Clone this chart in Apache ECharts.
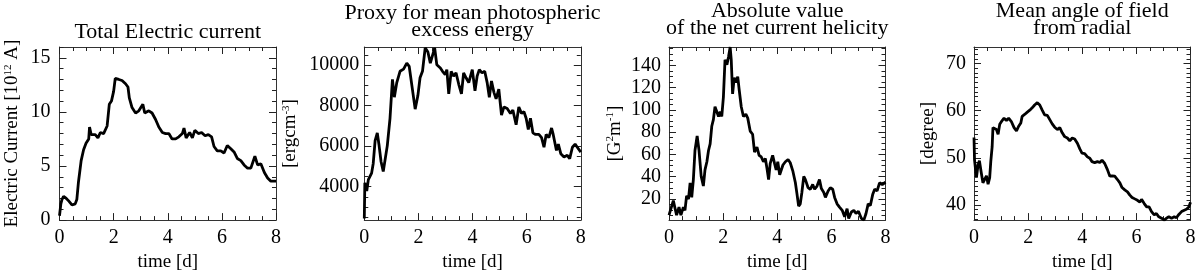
<!DOCTYPE html>
<html>
<head>
<meta charset="utf-8">
<script src="https://cdn.jsdelivr.net/npm/echarts@6/dist/echarts.min.js"></script>
<style>html,body{margin:0;padding:0;background:#fff}#main{width:1200px;height:277px}</style>
</head>
<body>
<div id="main"></div>
<script>
var chart = echarts.init(document.getElementById('main'));
var FONT = 'Liberation Serif';

// total electric current [10^12 A]
var time1 = [0, 0.05, 0.09, 0.15, 0.25, 0.33, 0.46, 0.58, 0.64, 0.7, 0.8, 0.89, 0.98, 1.08, 1.11, 1.17, 1.32, 1.42, 1.51, 1.63, 1.76, 1.84, 1.92, 2.0, 2.06, 2.19, 2.31, 2.44, 2.53, 2.58, 2.68, 2.81, 2.93, 3.08, 3.15, 3.3, 3.42, 3.55, 3.67, 3.8, 3.92, 4.04, 4.16, 4.29, 4.41, 4.54, 4.6, 4.68, 4.81, 4.91, 5.0, 5.13, 5.25, 5.38, 5.5, 5.62, 5.71, 5.83, 5.96, 6.08, 6.2, 6.33, 6.45, 6.57, 6.7, 6.82, 6.95, 7.07, 7.22, 7.32, 7.44, 7.57, 7.69, 7.81, 8.0];
var current = [0.4, 1.5, 1.9, 2.2, 2.0, 1.8, 1.4, 1.5, 1.9, 3.5, 5.5, 6.5, 7.1, 7.5, 8.6, 7.9, 7.9, 7.6, 8.1, 8.0, 8.7, 10.7, 11.0, 11.9, 13.1, 13.0, 12.9, 12.6, 12.3, 11.3, 10.4, 9.9, 10.1, 10.7, 9.9, 10.1, 9.9, 9.3, 8.6, 8.1, 8.0, 8.0, 7.5, 7.5, 7.7, 8.0, 8.5, 7.6, 8.1, 7.6, 8.3, 8.0, 8.1, 7.8, 7.9, 7.7, 6.8, 6.4, 6.4, 6.2, 6.9, 6.6, 6.3, 5.7, 5.5, 5.1, 4.8, 4.8, 5.9, 5.1, 5.2, 4.4, 3.9, 3.6, 3.6];

// excess energy proxy [erg cm^-3]
var time2 = [0, 0.02, 0.09, 0.15, 0.21, 0.27, 0.33, 0.4, 0.48, 0.54, 0.62, 0.7, 0.77, 0.85, 0.95, 1.04, 1.11, 1.2, 1.32, 1.45, 1.57, 1.66, 1.76, 1.88, 1.98, 2.06, 2.15, 2.25, 2.35, 2.44, 2.5, 2.6, 2.68, 2.81, 2.89, 2.99, 3.05, 3.12, 3.21, 3.3, 3.39, 3.49, 3.59, 3.67, 3.76, 3.86, 3.99, 4.09, 4.17, 4.25, 4.35, 4.45, 4.54, 4.62, 4.7, 4.79, 4.87, 4.97, 5.07, 5.16, 5.28, 5.4, 5.49, 5.61, 5.71, 5.81, 5.9, 5.98, 6.06, 6.14, 6.23, 6.33, 6.45, 6.55, 6.64, 6.72, 6.82, 6.92, 6.98, 7.05, 7.1, 7.17, 7.26, 7.38, 7.5, 7.59, 7.69, 7.79, 7.87, 8.0];
var energy = [2430, 4190, 3790, 4350, 4430, 4670, 5150, 6270, 6660, 6100, 5230, 4750, 4830, 6030, 7380, 9300, 8420, 9140, 9700, 9810, 10100, 9940, 8980, 7830, 8500, 9380, 9700, 10860, 10650, 10100, 10020, 10860, 10020, 9860, 9700, 9540, 9780, 8580, 9700, 9460, 9620, 9060, 8580, 9620, 9380, 9140, 9780, 8740, 9460, 9780, 9620, 9700, 9140, 8420, 9220, 8660, 8340, 8820, 7540, 7940, 7860, 7620, 7780, 7060, 7940, 7620, 7700, 7380, 6820, 7380, 6660, 6580, 6580, 6420, 5950, 6580, 6420, 6900, 6580, 6500, 5790, 6100, 5630, 5470, 5550, 5390, 5950, 6100, 5950, 5710];

// |net current helicity| [G^2 m^-1]
var time3 = [0, 0.07, 0.16, 0.22, 0.28, 0.37, 0.44, 0.53, 0.59, 0.65, 0.72, 0.78, 0.84, 0.9, 0.96, 1.04, 1.11, 1.19, 1.27, 1.33, 1.4, 1.46, 1.52, 1.58, 1.64, 1.7, 1.77, 1.83, 1.89, 1.95, 2.01, 2.07, 2.14, 2.2, 2.26, 2.3, 2.35, 2.41, 2.47, 2.54, 2.59, 2.67, 2.75, 2.84, 2.91, 3.0, 3.09, 3.16, 3.25, 3.33, 3.41, 3.49, 3.56, 3.62, 3.68, 3.74, 3.83, 3.9, 3.96, 4.02, 4.09, 4.15, 4.21, 4.3, 4.4, 4.48, 4.58, 4.67, 4.73, 4.79, 4.85, 4.91, 4.98, 5.04, 5.14, 5.22, 5.31, 5.38, 5.47, 5.56, 5.63, 5.72, 5.78, 5.88, 5.96, 6.05, 6.12, 6.21, 6.3, 6.4, 6.49, 6.58, 6.64, 6.74, 6.83, 6.91, 7.0, 7.11, 7.2, 7.28, 7.36, 7.44, 7.53, 7.6, 7.69, 7.78, 7.88, 8.0];
var helicity = [5.4, 6.9, 18.5, 17, 5.4, 12.7, 5.4, 12.7, 9.8, 22.8, 19.9, 34.5, 21.4, 37.4, 63.5, 76.6, 63.5, 40.3, 31.6, 46.1, 53.4, 63.5, 69.4, 85.3, 91.2, 102.8, 101.3, 94.1, 98.4, 94.1, 111.5, 145, 140.6, 147.8, 156.5, 145, 114.4, 129, 124.6, 129.8, 118.8, 102.8, 94.1, 96.1, 92.6, 81, 78.1, 62.1, 66.5, 59.2, 57.7, 53.4, 56.3, 47.6, 37.4, 51.9, 59.2, 51.9, 46.1, 53.4, 41.7, 43.2, 50.5, 53.4, 55.4, 52.5, 44.7, 34.5, 24.3, 13.5, 15.6, 25.8, 40.3, 37.4, 30.1, 28.7, 33, 28.7, 31.6, 37.4, 29.3, 25.8, 21.4, 27.2, 30.1, 28.7, 21.4, 15.6, 12.7, 9.8, 4, 11.2, 2.5, 8.3, 9.8, 6.9, 8.9, 2.5, 1, 6.9, 15.6, 14.1, 24.3, 28.7, 27.2, 34.5, 33, 35];

// mean angle of field from radial [degree]
var time4 = [0, 0.02, 0.09, 0.15, 0.2, 0.27, 0.33, 0.4, 0.46, 0.52, 0.58, 0.62, 0.67, 0.7, 0.76, 0.83, 0.89, 0.95, 1.04, 1.11, 1.2, 1.28, 1.38, 1.48, 1.57, 1.65, 1.73, 1.78, 1.87, 1.97, 2.06, 2.15, 2.24, 2.34, 2.43, 2.52, 2.61, 2.71, 2.8, 2.89, 2.98, 3.08, 3.17, 3.26, 3.35, 3.45, 3.54, 3.63, 3.72, 3.82, 3.91, 3.99, 4.09, 4.19, 4.28, 4.36, 4.46, 4.56, 4.65, 4.73, 4.83, 4.93, 5.02, 5.1, 5.2, 5.3, 5.39, 5.47, 5.57, 5.67, 5.76, 5.84, 5.94, 6.04, 6.13, 6.19, 6.29, 6.38, 6.47, 6.56, 6.66, 6.74, 6.83, 6.93, 7.03, 7.11, 7.2, 7.3, 7.4, 7.48, 7.57, 7.67, 7.77, 7.85, 7.94, 8.0];
var angle = [54.3, 49.5, 45.8, 48.5, 49.4, 46.8, 44.7, 44.7, 46.2, 44.4, 45.8, 49.2, 52.3, 56.4, 56.7, 56.0, 55.0, 57.1, 57.9, 58.4, 57.9, 58.4, 57.7, 56.4, 55.7, 56.7, 57.4, 58.8, 59.2, 59.7, 60.1, 60.6, 61.2, 61.7, 61.2, 60.1, 59.1, 59.0, 58.1, 57.2, 56.5, 56.0, 56.4, 55.3, 54.5, 54.2, 53.6, 54.2, 54.0, 53.1, 51.9, 51.0, 50.9, 50.2, 49.9, 49.2, 49.0, 49.2, 49.0, 49.5, 48.8, 47.5, 46.1, 46.2, 46.1, 45.4, 44.7, 43.7, 43.2, 42.8, 42.1, 41.6, 41.3, 41.0, 40.6, 41.2, 40.3, 39.6, 39.6, 38.6, 37.9, 38.2, 37.5, 37.2, 36.8, 37.2, 37.5, 37.2, 37.5, 37.3, 38.0, 38.6, 38.9, 39.1, 39.6, 40.6];

// tick labels
var timeTicks = [0, 2, 4, 6, 8];
var currentTicks = [0, 5, 10, 15];
var energyTicks = [4000, 6000, 8000, 10000];
var helicityTicks = [20, 40, 60, 80, 100, 120, 140];
var angleTicks = [40, 50, 60, 70];

var panels = [
  { title: 'Total Electric current', yName: 'Electric Current [10{sup|12} A]', t: time1, v: current,
    left: 59.5, min: 0, max: 16, ticks: currentTicks, minorStep: 1, nameGap: 37, titleTop: 24, labelMargin: 9 },
  { title: 'Proxy for mean photospheric\nexcess energy', yName: '[ergcm{sup|-3}]', t: time2, v: energy,
    left: 364.3, min: 2350, max: 10900, ticks: energyTicks, minorStep: 500, nameGap: 64, titleTop: 5, labelMargin: 5 },
  { title: 'Absolute value\nof the net current helicity', yName: '[G{sup|2}m{sup|-1}]', t: time3, v: helicity,
    left: 669, min: 1, max: 156.5, ticks: helicityTicks, minorStep: 5, nameGap: 44, titleTop: 3, labelMargin: 8 },
  { title: 'Mean angle of field\nfrom radial', yName: '[degree]', t: time4, v: angle,
    left: 974, min: 36.8, max: 73.5, ticks: angleTicks, minorStep: 1, nameGap: 36, titleTop: 3, labelMargin: 8 }
];

var GRID_W = 216.5, GRID_TOP = 47, GRID_H = 178;

function steps(min, max, step) {
  var out = [];
  var start = Math.ceil(min / step - 1e-9);
  for (var k = start; k * step <= max + 1e-9; k++) out.push(+(k * step).toFixed(6));
  return out;
}

function textStyle(size) {
  return { color: '#000', fontFamily: FONT, fontSize: size };
}

// one major axis (line, ticks, maybe labels) and one minor-tick axis per side
function sideAxes(gi, pos, min, max, major, minor, withLabels, margin) {
  var base = { type: 'value', gridIndex: gi, position: pos, min: min, max: max,
    splitLine: { show: false }, silent: true };
  var main = Object.assign({}, base, {
    axisLine: { show: true, onZero: false, lineStyle: { color: '#333', width: 1 } },
    axisTick: { show: true, inside: true, length: 7, customValues: major, lineStyle: { color: '#222', width: 1 } },
    axisLabel: withLabels
      ? Object.assign({ show: true, customValues: major, margin: margin,
          formatter: function (v) { return String(v); } }, textStyle(20))
      : { show: false }
  });
  var small = Object.assign({}, base, {
    axisLine: { show: false, onZero: false },
    axisTick: { show: true, inside: true, length: 4, customValues: minor, lineStyle: { color: '#222', width: 1 } },
    axisLabel: { show: false }
  });
  return [main, small];
}

var grids = [], xAxes = [], yAxes = [], titles = [], series = [];

panels.forEach(function (p, i) {
  grids.push({ left: p.left, top: GRID_TOP, width: GRID_W, height: GRID_H });

  var xMinor = steps(0, 8, 0.5);
  var xb = sideAxes(i, 'bottom', 0, 8, timeTicks, xMinor, true, 8);
  var xt = sideAxes(i, 'top', 0, 8, timeTicks, xMinor, false, 8);
  xb[0].name = 'time [d]';
  xb[0].nameLocation = 'middle';
  xb[0].nameGap = 31;
  xb[0].nameTextStyle = textStyle(19);
  var xIndex = xAxes.length;
  xAxes.push(xb[0], xt[0], xb[1], xt[1]);

  var yMinor = steps(p.min, p.max, p.minorStep);
  var yl = sideAxes(i, 'left', p.min, p.max, p.ticks, yMinor, true, p.labelMargin);
  var yr = sideAxes(i, 'right', p.min, p.max, p.ticks, yMinor, false, 8);
  yl[0].name = p.yName;
  yl[0].nameLocation = 'middle';
  yl[0].nameGap = p.nameGap;
  yl[0].nameTextStyle = Object.assign(textStyle(19), {
    rich: { sup: { fontFamily: FONT, fontSize: 11, color: '#000', verticalAlign: 'top', lineHeight: 20 } }
  });
  var yIndex = yAxes.length;
  yAxes.push(yl[0], yr[0], yl[1], yr[1]);

  titles.push({
    text: p.title,
    left: p.left + GRID_W / 2,
    top: p.titleTop,
    textAlign: 'center',
    padding: 0,
    textStyle: { fontFamily: FONT, fontSize: 22, fontWeight: 'normal', color: '#000', lineHeight: 17 }
  });

  series.push({
    type: 'line',
    xAxisIndex: xIndex,
    yAxisIndex: yIndex,
    data: p.t.map(function (t, k) { return [t, p.v[k]]; }),
    showSymbol: false,
    clip: true,
    lineStyle: { color: '#000', width: 2.8 }
  });
});

chart.setOption({
  animation: false,
  backgroundColor: '#fff',
  title: titles,
  grid: grids,
  xAxis: xAxes,
  yAxis: yAxes,
  series: series
});
</script>
</body>
</html>
